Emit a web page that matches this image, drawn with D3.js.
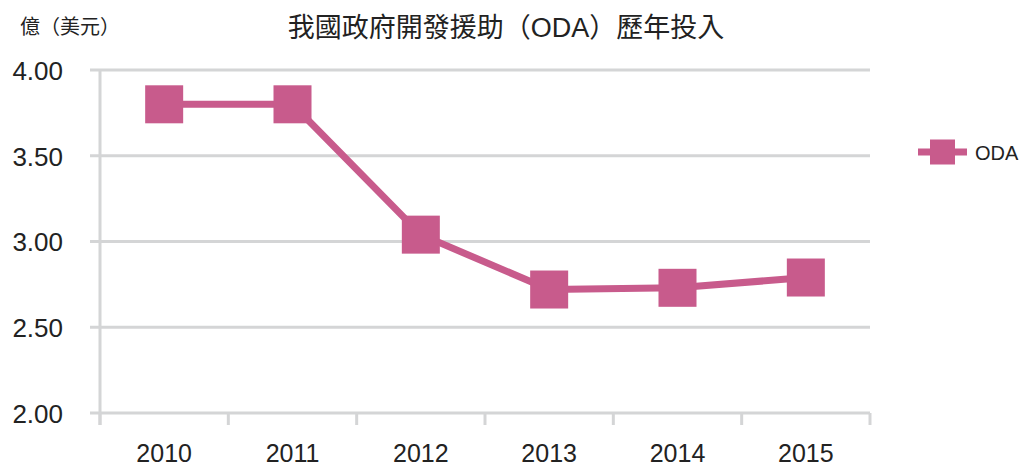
<!DOCTYPE html>
<html>
<head>
<meta charset="utf-8">
<script src="https://cdn.jsdelivr.net/npm/d3@7"></script>
<style>
  body { margin: 0; background: #fff; }
  svg text { font-family: "Liberation Sans", Arial, "Noto Sans CJK TC", sans-serif; fill: #222; }
  .cjk { font-family: "Liberation Sans", "Noto Sans CJK TC", sans-serif; }
</style>
</head>
<body>
<div id="chart"></div>
<script>
// datos:
const years = ["2010", "2011", "2012", "2013", "2014", "2015"]
const oda = [3.80, 3.80, 3.04, 2.72, 2.73, 2.79]
const yTicks = [2.00, 2.50, 3.00, 3.50, 4.00]
const title = "我國政府開發援助（ODA）歷年投入"
const unitLabel = "億（美元）"
const seriesName = "ODA"

// constantes:
const width = 1022
const height = 468
const margins = { top: 70, left: 100, right: 152, bottom: 55 }
const color = "#c85b8c"
const gridColor = "#d4d5d6"

let svg = d3.select('div#chart').append('svg').attr('width', width).attr('height', height)

// escalas:
let x = d3.scaleBand().domain(years).range([margins.left, width - margins.right]).padding(0)
let y = d3.scaleLinear().domain([2, 4]).range([height - margins.bottom, margins.top])

// grid + eje y
let grid = svg.append('g').attr('id', 'grid')
grid.selectAll('line').data(yTicks).enter().append('line')
    .attr('x1', margins.left - 10).attr('x2', width - margins.right)
    .attr('y1', d => y(d)).attr('y2', d => y(d))
    .attr('stroke', gridColor).attr('stroke-width', 3)

let yAxisGroup = svg.append('g').attr('transform', `translate(${margins.left - 37}, 0)`)
    .call(d3.axisLeft(y).tickValues(yTicks).tickFormat(d3.format('.2f')).tickSize(0))
yAxisGroup.select('.domain').remove()
yAxisGroup.selectAll('text').attr('font-size', 26).attr('dy', '0.36em').attr('x', 0)
    .style('font-family', '"Liberation Sans", Arial, sans-serif').attr('fill', '#222')

// eje y vertical
svg.append('line')
    .attr('x1', margins.left).attr('x2', margins.left)
    .attr('y1', y(4)).attr('y2', y(2) + 12)
    .attr('stroke', gridColor).attr('stroke-width', 3)

// eje x: ticks en los bordes de las bandas
let edges = years.map(d => x(d)).concat([x(years[years.length - 1]) + x.bandwidth()])
svg.append('g').selectAll('line').data(edges).enter().append('line')
    .attr('x1', d => d).attr('x2', d => d)
    .attr('y1', y(2)).attr('y2', y(2) + 12)
    .attr('stroke', gridColor).attr('stroke-width', 3)

let xAxisGroup = svg.append('g').attr('transform', `translate(0, ${y(2)})`)
    .call(d3.axisBottom(x).tickSize(0))
xAxisGroup.select('.domain').remove()
xAxisGroup.selectAll('text').attr('font-size', 25).attr('dy', 0).attr('y', 49)
    .style('font-family', '"Liberation Sans", Arial, sans-serif').attr('fill', '#222')

// línea + marcadores
let pts = years.map((d, i) => ({ year: d, value: oda[i] }))
let line = d3.line().x(d => x(d.year) + x.bandwidth() / 2).y(d => y(d.value))
svg.append('path').datum(pts)
    .attr('d', line).attr('fill', 'none')
    .attr('stroke', color).attr('stroke-width', 7)

const ms = 38
svg.append('g').selectAll('rect').data(pts).enter().append('rect')
    .attr('x', d => x(d.year) + x.bandwidth() / 2 - ms / 2)
    .attr('y', d => y(d.value) - ms / 2)
    .attr('width', ms).attr('height', ms)
    .attr('fill', color)

// títulos
svg.append('text').attr('class', 'cjk').attr('x', 506).attr('y', 37)
    .attr('text-anchor', 'middle').attr('font-size', 27).attr('fill', '#222').text(title)
svg.append('text').attr('class', 'cjk').attr('x', 20).attr('y', 34)
    .attr('font-size', 20).attr('fill', '#222').text(unitLabel)

// leyenda
let legend = svg.append('g').attr('transform', 'translate(918, 152)')
legend.append('line').attr('x1', 0).attr('x2', 49).attr('y1', 0).attr('y2', 0)
    .attr('stroke', color).attr('stroke-width', 7)
legend.append('rect').attr('x', 12).attr('y', -12.5).attr('width', 25).attr('height', 25).attr('fill', color)
legend.append('text').attr('x', 57).attr('y', 8).attr('font-size', 20).attr('fill', '#222').text(seriesName)
</script>
</body>
</html>
